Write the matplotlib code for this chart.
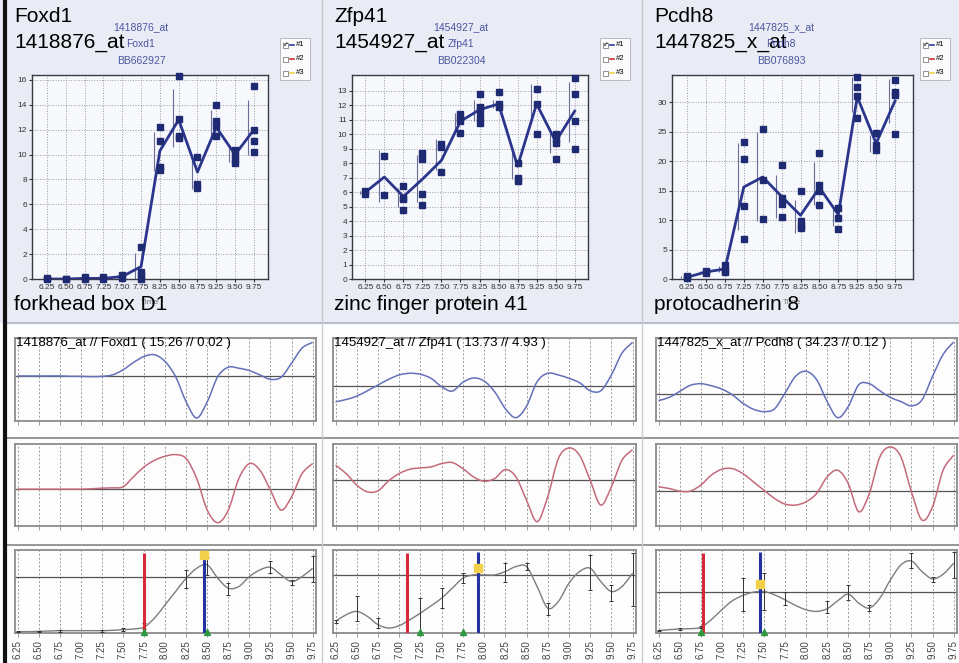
import numpy as np
import matplotlib.pyplot as plt
from matplotlib.patches import Rectangle, PathPatch
from matplotlib.path import Path
from matplotlib.lines import Line2D

plt.rcParams['font.family'] = ['Liberation Sans', 'DejaVu Sans']

W, H = 959, 663

# ---- top row: replicate expression at the 12 sampled stages ----
stages = ['6.25', '6.50', '6.75', '7.25', '7.50', '7.75', '8.25', '8.50', '8.75', '9.25', '9.50', '9.75']

foxd1_mean = [0.0, 0.0, 0.05, 0.05, 0.2, 1.0, 10.3, 12.8, 8.6, 12.2, 10.0, 12.0]
foxd1_reps = [[0.05, 0.0], [0.02, 0.0], [0.15, 0.0], [0.15, 0.0], [0.3, 0.1], [2.6, 0.6, 0.3, 0.0],
              [12.2, 11.1, 9.0, 8.8], [16.3, 12.9, 11.5, 11.3], [9.8, 7.6, 7.3],
              [14.0, 12.7, 12.3, 11.5], [10.4, 10.0, 9.6, 9.3], [15.5, 12.0, 11.1, 10.2]]
foxd1_lo = [0.0, 0.0, 0.0, 0.0, 0.1, 0.0, 8.7, 10.6, 7.2, 11.2, 9.4, 10.0]
foxd1_hi = [0.0, 0.0, 0.1, 0.1, 0.3, 2.1, 11.8, 15.3, 10.0, 13.6, 10.7, 14.4]

zfp41_mean = [6.0, 7.05, 5.7, 6.9, 8.2, 10.9, 11.7, 12.1, 7.8, 12.1, 9.5, 11.6]
zfp41_reps = [[6.1, 5.9], [8.5, 5.8], [6.4, 5.6, 5.5, 4.8], [8.7, 8.3, 5.9, 5.1], [9.3, 9.1, 7.4],
              [11.4, 11.1, 10.9, 10.1], [12.8, 11.9, 11.7, 11.2, 10.8], [12.9, 12.1, 11.9],
              [8.0, 7.0, 6.8], [13.1, 12.1, 10.0], [10.0, 9.7, 9.4, 8.3], [13.9, 12.8, 10.9, 9.0]]
zfp41_lo = [5.9, 5.3, 5.0, 5.3, 7.5, 10.2, 10.9, 11.8, 6.9, 11.0, 8.7, 9.5]
zfp41_hi = [6.1, 8.9, 6.3, 8.6, 9.7, 11.5, 12.4, 12.4, 8.8, 13.5, 10.2, 13.6]

pcdh8_mean = [0.3, 1.2, 1.7, 15.6, 17.3, 14.0, 10.8, 15.5, 10.9, 30.9, 23.0, 30.2]
pcdh8_reps = [[0.5, 0.2], [1.4, 1.1], [2.3, 1.6, 1.2], [23.3, 20.4, 12.3, 6.7], [25.4, 16.8, 10.2],
              [19.3, 13.8, 12.8, 10.6], [15.0, 9.9, 9.0, 8.6], [21.4, 15.9, 15.0, 12.6],
              [12.0, 10.3, 8.4], [34.3, 32.5, 31.0, 27.3], [24.8, 22.8, 21.9], [33.7, 31.8, 31.2, 24.6]]
pcdh8_lo = [0.2, 1.0, 1.2, 8.3, 9.8, 10.4, 7.8, 12.6, 9.0, 28.3, 21.5, 26.4]
pcdh8_hi = [0.5, 1.4, 2.2, 23.0, 24.9, 17.7, 13.4, 19.9, 12.6, 34.2, 24.4, 33.9]

# ---- lower rows: smoothed profiles (read every 0.125 from 6.25 to 9.75) ----
grid_labels = ['6.25', '6.50', '6.75', '7.00', '7.25', '7.50', '7.75', '8.00',
               '8.25', '8.50', '8.75', '9.00', '9.25', '9.50', '9.75']

foxd1_blue = [1.34, 1.34, 1.34, 1.34, 1.34, 1.33, 1.33, 1.32, 1.33, 1.37, 1.52, 1.74, 1.92, 1.97, 1.77,
              1.32, 0.57, 0.09, 0.57, 1.32, 1.60, 1.57, 1.50, 1.37, 1.24, 1.30, 1.72, 2.17, 2.34]
foxd1_red = [1.11, 1.11, 1.11, 1.11, 1.11, 1.11, 1.11, 1.12, 1.14, 1.15, 1.18, 1.48, 1.78, 1.98, 2.10,
             2.15, 2.03, 1.43, 0.48, 0.10, 0.48, 1.43, 1.88, 1.68, 1.08, 0.48, 0.88, 1.58, 1.88]
foxd1_fit = [0.04, 0.04, 0.05, 0.06, 0.07, 0.07, 0.07, 0.07, 0.07, 0.08, 0.10, 0.12, 0.18, 0.45, 0.85,
             1.25, 1.65, 1.95, 2.05, 1.65, 1.35, 1.40, 1.70, 1.90, 1.98, 1.75, 1.55, 1.70, 1.95]
foxd1_fit_lo = [0.02, 0.02, 0.04, 0.04, 0.06, 0.12, 1.35, 1.75, 1.15, 1.80, 1.45, 1.55]
foxd1_fit_hi = [0.06, 0.06, 0.10, 0.10, 0.14, 0.30, 1.90, 2.30, 1.50, 2.18, 1.60, 2.32]

zfp41_blue = [0.57, 0.64, 0.74, 0.90, 1.07, 1.24, 1.37, 1.42, 1.39, 1.27, 1.02, 0.89, 1.15, 1.28, 1.19,
              0.87, 0.37, 0.10, 0.44, 1.17, 1.42, 1.37, 1.27, 1.14, 0.90, 0.90, 1.37, 2.02, 2.34]
zfp41_red = [1.83, 1.58, 1.23, 1.03, 1.06, 1.36, 1.58, 1.71, 1.75, 1.78, 1.88, 1.91, 1.73, 1.48, 1.35,
             1.43, 1.70, 1.48, 0.78, 0.13, 0.88, 2.03, 2.35, 2.13, 1.38, 0.63, 1.18, 1.98, 2.30]
zfp41_fit = [0.35, 0.55, 0.65, 0.50, 0.25, 0.15, 0.22, 0.40, 0.60, 0.82, 1.05, 1.35, 1.65, 1.75, 1.75,
             1.75, 1.85, 2.00, 2.00, 1.40, 0.75, 0.95, 1.50, 1.85, 1.95, 1.55, 1.25, 1.40, 1.80]
zfp41_fit_lo = [0.30, 0.35, 0.15, 0.02, 0.75, 1.50, 1.55, 1.90, 0.55, 1.30, 0.95, 0.80]
zfp41_fit_hi = [0.40, 1.10, 0.45, 1.05, 1.35, 1.80, 2.10, 2.10, 0.90, 2.35, 1.45, 2.40]

pcdh8_blue = [0.61, 0.70, 0.88, 1.06, 1.11, 1.05, 0.95, 0.78, 0.53, 0.35, 0.28, 0.36, 0.83, 1.33, 1.48,
              1.23, 0.58, 0.10, 0.43, 1.08, 1.11, 0.90, 0.70, 0.58, 0.45, 0.63, 1.33, 1.98, 2.35]
pcdh8_red = [1.18, 1.13, 1.05, 1.05, 1.23, 1.53, 1.71, 1.73, 1.58, 1.33, 1.08, 0.83, 0.66, 0.63, 0.73,
             0.98, 1.48, 1.68, 1.28, 0.43, 0.98, 2.08, 2.38, 2.08, 1.03, 0.18, 0.58, 1.68, 2.13]
pcdh8_fit = [0.07, 0.10, 0.12, 0.13, 0.17, 0.40, 0.70, 0.97, 1.13, 1.23, 1.25, 1.15, 1.00, 0.83, 0.70,
             0.65, 0.73, 0.97, 1.17, 0.90, 0.75, 1.05, 1.60, 2.05, 2.17, 1.85, 1.63, 1.77, 2.10]
pcdh8_fit_lo = [0.05, 0.10, 0.14, 0.65, 0.70, 0.85, 0.60, 1.00, 0.65, 1.95, 1.55, 1.65]
pcdh8_fit_hi = [0.09, 0.14, 0.22, 1.65, 1.80, 1.25, 0.95, 1.45, 0.85, 2.40, 1.70, 2.45]

# zero lines of the three lower rows, per gene
foxd1_zero = [1.34, 1.11, 1.68]
zfp41_zero = [1.05, 1.38, 1.75]
pcdh8_zero = [0.81, 1.05, 1.25]

# onset (red), peak (blue), peak value (yellow), sampled stages bracketing them (green)
foxd1_marks = (7.75, 8.46, 2.35, [7.75, 8.50])
zfp41_marks = (7.09, 7.93, 1.95, [7.25, 7.75])
pcdh8_marks = (6.78, 7.45, 1.47, [6.75, 7.50])

fig = plt.figure(figsize=(W / 100, H / 100), dpi=100)
fig.patch.set_facecolor('#fdfdfd')


def ax_px(l, t, r, b):
    return fig.add_axes([l / W, 1 - b / H, (r - l) / W, (b - t) / H])


def ftext(x, y, s, **kw):
    fig.text(x / W, 1 - y / H, s, **kw)


def fline(xs, ys, **kw):
    fig.add_artist(Line2D([x / W for x in xs], [1 - y / H for y in ys], **kw))


def smooth_line(ax, xs, ys, **kw):
    # curved path through the read points (cubic Bezier segments)
    p = np.column_stack([xs, ys])
    pad = np.vstack([p[0], p, p[-1]])
    verts, codes = [p[0]], [Path.MOVETO]
    for i in range(len(p) - 1):
        a, b, c, d = pad[i], pad[i + 1], pad[i + 2], pad[i + 3]
        verts += [b + (c - a) / 6, c - (d - b) / 6, c]
        codes += [Path.CURVE4] * 3
    ax.add_patch(PathPatch(Path(verts, codes), fill=False, **kw))


# background of the top band and separators
fig.add_artist(Rectangle((0, 1 - 322 / H), 1, 322 / H, color='#eaecf5', zorder=-5))
fline([6, 959], [323, 323], color='#b9bcc9', lw=1.5)
fline([6, 959], [438, 438], color='#7a7a7a', lw=1.1)
fline([6, 959], [545, 545], color='#7a7a7a', lw=1.1)
fline([322, 322], [0, 663], color='#c9cbd3', lw=1.0)
fline([642, 642], [0, 663], color='#c9cbd3', lw=1.0)
fline([5, 5], [0, 663], color='#111111', lw=3)


def profile(box, mean, reps, lo, hi, ymax, yticks, xlim):
    ax = ax_px(*box)
    ax.set_facecolor('#f7f8fc')
    x = np.arange(len(stages))
    ax.vlines(x - 0.3, lo, hi, color='#6a6f98', lw=0.8, zorder=2)
    ax.plot(x, mean, color='#2b358c', lw=2, zorder=3)
    for i, r in enumerate(reps):
        ax.plot([i] * len(r), r, 's', color='#1e2a72', ms=4.5, ls='none', zorder=4, clip_on=False)
    ax.set_xlim(*xlim)
    ax.set_ylim(0, ymax)
    ax.set_xticks(x, stages)
    ax.set_yticks(yticks)
    ax.grid(True, ls=':', color='#9a9aa8', lw=0.7)
    ax.tick_params(length=2, labelsize=6, colors='#333333', pad=1.5)
    for s in ax.spines.values():
        s.set_color('#3a3a48')
        s.set_linewidth(1.0)
    return ax


def legend_box(l, t):
    fig.add_artist(Rectangle((l / W, 1 - (t + 42) / H), 30 / W, 42 / H,
                             facecolor='#fbfbfd', edgecolor='#b0b0b8', lw=0.6))
    for k, c in enumerate(['#2a3aa0', '#d03030', '#e8d840']):
        y = t + 7 + k * 14
        fig.add_artist(Rectangle(((l + 3) / W, 1 - (y + 2.5) / H), 5 / W, 5 / H,
                                 facecolor='white', edgecolor='#666', lw=0.5))
        if k == 0:
            ftext(l + 3.2, y + 0.5, '✓', fontsize=5, va='center', family='DejaVu Sans')
        fline([l + 10, l + 14], [y, y], color=c, lw=1.2)
        ftext(l + 16, y, '#%d' % (k + 1), fontsize=5.5, va='center')


genes = [
    dict(name='Foxd1', probe='1418876_at', acc='BB662927', desc='forkhead box D1',
         mean=foxd1_mean, reps=foxd1_reps, lo=foxd1_lo, hi=foxd1_hi, ymax=16.4,
         yticks=range(0, 17, 2), xlim=(-0.8, 11.75), top=(32, 75, 268, 279),
         col=(15, 316), blue=foxd1_blue, red=foxd1_red, fit=foxd1_fit,
         flo=foxd1_fit_lo, fhi=foxd1_fit_hi, zero=foxd1_zero, marks=foxd1_marks,
         stat='1418876_at // Foxd1 ( 15.26 // 0.02 )', x0=0),
    dict(name='Zfp41', probe='1454927_at', acc='BB022304', desc='zinc finger protein 41',
         mean=zfp41_mean, reps=zfp41_reps, lo=zfp41_lo, hi=zfp41_hi, ymax=14.1,
         yticks=range(0, 14), xlim=(-0.7, 11.7), top=(352, 75, 588, 279),
         col=(333, 636), blue=zfp41_blue, red=zfp41_red, fit=zfp41_fit,
         flo=zfp41_fit_lo, fhi=zfp41_fit_hi, zero=zfp41_zero, marks=zfp41_marks,
         stat='1454927_at // Zfp41 ( 13.73 // 4.93 )', x0=320),
    dict(name='Pcdh8', probe='1447825_x_at', acc='BB076893', desc='protocadherin 8',
         mean=pcdh8_mean, reps=pcdh8_reps, lo=pcdh8_lo, hi=pcdh8_hi, ymax=34.6,
         yticks=range(0, 31, 5), xlim=(-0.8, 11.95), top=(672, 75, 913, 279),
         col=(656, 957), blue=pcdh8_blue, red=pcdh8_red, fit=pcdh8_fit,
         flo=pcdh8_fit_lo, fhi=pcdh8_fit_hi, zero=pcdh8_zero, marks=pcdh8_marks,
         stat='1447825_x_at // Pcdh8 ( 34.23 // 0.12 )', x0=640),
]

wave_x = np.linspace(6.25, 9.75, 29)
grid_x = [float(g) for g in grid_labels]
stage_x = [float(s) for s in stages]
rows = [(338, 421), (444, 526), (550, 633)]

for g in genes:
    x0 = g['x0']
    ax = profile(g['top'], g['mean'], g['reps'], g['lo'], g['hi'], g['ymax'], g['yticks'], g['xlim'])
    cx = (g['top'][0] + g['top'][2]) / 2
    ftext(cx, 303, 'Time', fontsize=6, color='#777', ha='center', va='center')
    ftext(x0 + 14, 17, g['name'], fontsize=15, va='center')
    ftext(x0 + 14, 43, g['probe'], fontsize=15, va='center')
    ftext(x0 + 14, 305, g['desc'], fontsize=15, va='center')
    bx = x0 + 141
    ftext(bx, 27, g['probe'], fontsize=7.5, color='#4a55a0', ha='center', va='center')
    ftext(bx, 44, g['name'], fontsize=7.5, color='#4a55a0', ha='center', va='center')
    ftext(bx, 61, g['acc'], fontsize=7.5, color='#4a55a0', ha='center', va='center')
    legend_box(x0 + 280, 38)

    l, r = g['col']
    for k, (t, b) in enumerate(rows):
        a = ax_px(l, t, r, b)
        a.set_facecolor('#fdfdfd')
        a.set_xlim(6.22, 9.79)
        a.set_ylim(0, 2.47 if k < 2 else 2.5)
        for gx in grid_x:
            a.axvline(gx, color='#9a9a9a', lw=0.7, ls=(0, (2, 2)), zorder=0)
        a.axhline(g['zero'][k], color='#555555', lw=0.9, zorder=1)
        a.set_yticks([])
        a.set_xticks(grid_x)
        a.tick_params(axis='x', length=3, color='#999', width=0.7)
        for s in a.spines.values():
            s.set_color('#8c8c8c')
            s.set_linewidth(1.3)
        if k == 0:
            smooth_line(a, wave_x, g['blue'], edgecolor='#6470b8', lw=1.1)
            a.set_xticklabels([])
            ftext(l + 1, 343, g['stat'], fontsize=9.5, va='center')
        elif k == 1:
            smooth_line(a, wave_x, g['red'], edgecolor='#c46a7a', lw=1.1)
            a.set_xticklabels([])
        else:
            smooth_line(a, wave_x, g['fit'], edgecolor='#7d7d7d', lw=1.0, zorder=2)
            mid = [(lo_ + hi_) / 2 for lo_, hi_ in zip(g['flo'], g['fhi'])]
            half = [(hi_ - lo_) / 2 for lo_, hi_ in zip(g['flo'], g['fhi'])]
            a.errorbar(stage_x, mid, yerr=half, fmt='none', ecolor='#333', elinewidth=0.7,
                       capsize=1.5, capthick=0.7, zorder=3)
            red_x, blue_x, peak_y, green_x = g['marks']
            a.vlines(red_x, 0, 2.42, color='#d42a3a', lw=2.2, zorder=4)
            a.vlines(blue_x, 0, 2.45, color='#2334a0', lw=2.2, zorder=4)
            a.plot([blue_x], [peak_y], 's', color='#f2d04a', ms=5.5, zorder=5)
            a.plot(green_x, [0.03] * len(green_x), '^', color='#2e9a40', ms=5, zorder=5, clip_on=False)
            a.set_xticklabels(grid_labels, rotation=90, fontsize=7, color='#444')
            a.tick_params(axis='x', pad=2)

fig.savefig('out.png', dpi=100, facecolor=fig.get_facecolor())
